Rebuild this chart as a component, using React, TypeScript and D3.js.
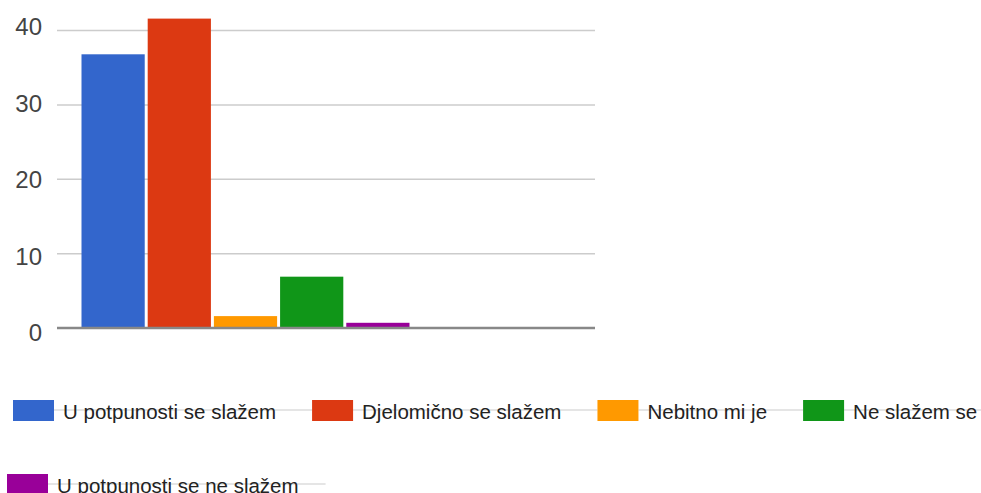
import React from "react";
import * as d3 from "d3";

const series = [
  "U potpunosti se slažem",
  "Djelomično se slažem",
  "Nebitno mi je",
  "Ne slažem se",
  "U potpunosti se ne slažem",
];
const values = [36.8, 41.6, 1.6, 6.9, 0.7];
const colors = ["#3366cc", "#dc3912", "#ff9900", "#109618", "#990099"];
const yTicks = [0, 10, 20, 30, 40];
const legendRows = [[0, 1, 2, 3], [4]];

const W = 981;
const H = 493;
const FONT = "Arial, 'Liberation Sans', sans-serif";
const LEGEND_FONT_SIZE = 20.5;

function measure(text: string, size: number): number {
  if (typeof document === "undefined") return text.length * size * 0.5;
  const c = document.createElement("canvas");
  const ctx = c.getContext("2d");
  if (!ctx) return text.length * size * 0.5;
  ctx.font = `${size}px Arial, 'Liberation Sans', sans-serif`;
  return ctx.measureText(text).width;
}

export default function App() {
  const y = d3.scaleLinear().domain([0, 40]).range([328, 30.5]);
  const yLabel = d3.scaleLinear().domain([0, 40]).range([341, 35]);
  const x = d3
    .scaleBand<string>()
    .domain(series)
    .range([81.5, 409.5])
    .paddingInner(0.045)
    .paddingOuter(0);
  const gridX0 = 57;
  const gridX1 = 595;

  const rowStarts = [13, 7];
  const rowTop = [400, 474];
  const sqW = 41;
  const sqH = 21;
  const textGap = 9;
  const itemGap = 36;

  const legendItems: any[] = [];
  legendRows.forEach((row, ri) => {
    let cx = rowStarts[ri];
    row.forEach((si, k) => {
      const tw = measure(series[si], LEGEND_FONT_SIZE);
      const item = {
        si,
        x: cx,
        top: rowTop[ri],
        textX: cx + sqW + textGap,
        textEnd: cx + sqW + textGap + tw,
        last: k === row.length - 1,
      };
      legendItems.push(item);
      cx = item.textEnd + itemGap;
    });
  });

  return (
    <svg
      width={W}
      height={H}
      style={{ position: "absolute", left: 0, top: 0, background: "#fff" }}
    >
      {yTicks.map((t) =>
        t === 0 ? null : (
          <line
            key={"g" + t}
            x1={gridX0}
            x2={gridX1}
            y1={y(t)}
            y2={y(t)}
            stroke="#cccccc"
            strokeWidth={1.5}
          />
        )
      )}
      {yTicks.map((t) => (
        <text
          key={"l" + t}
          x={42}
          y={yLabel(t)}
          textAnchor="end"
          fontFamily={FONT}
          fontSize={24}
          fill="#444"
        >
          {t}
        </text>
      ))}
      {series.map((s, i) => (
        <rect
          key={s}
          x={x(s)}
          y={y(values[i])}
          width={x.bandwidth()}
          height={y(0) - y(values[i])}
          fill={colors[i]}
        />
      ))}
      <line
        x1={gridX0}
        x2={gridX1}
        y1={y(0)}
        y2={y(0)}
        stroke="#888"
        strokeWidth={2.5}
      />
      {legendItems.map((it, idx) => {
        const next = legendItems[idx + 1];
        const lineEnd = !it.last && next ? next.x : it.textEnd + 27;
        return (
          <g key={"lg" + it.si}>
            <line
              x1={it.x + sqW}
              x2={Math.min(lineEnd, W)}
              y1={it.top + 10}
              y2={it.top + 10}
              stroke="#cccccc"
              strokeWidth={1.2}
            />
            <rect
              x={it.x}
              y={it.top}
              width={sqW}
              height={sqH}
              fill={colors[it.si]}
            />
            <text
              x={it.textX}
              y={it.top + 19}
              fontFamily={FONT}
              fontSize={LEGEND_FONT_SIZE}
              fill="#222"
            >
              {series[it.si]}
            </text>
          </g>
        );
      })}
    </svg>
  );
}
